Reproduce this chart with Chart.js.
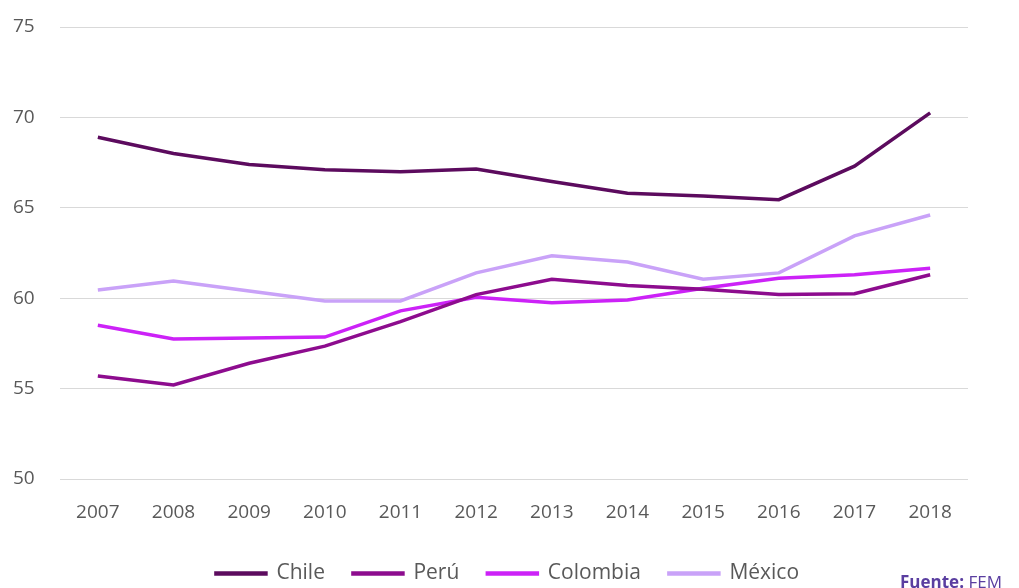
<!DOCTYPE html>
<html lang="es">
<head>
<meta charset="utf-8">
<title>Índice por país 2007-2018</title>
<script src="https://cdn.jsdelivr.net/npm/chart.js@4/dist/chart.umd.min.js"></script>
<style>
  html, body { margin: 0; padding: 0; background: #fff; overflow: hidden; }
  #wrap { position: relative; width: 1019px; height: 588px; }
  #source {
    position: absolute; left: 900px; top: 570px;
    font-family: "Open Sans", sans-serif; font-size: 17px; color: #5a3ea0;
    white-space: nowrap;
  }
  #source b { font-weight: 700; }
</style>
</head>
<body>
<div id="wrap">
  <canvas id="chart"></canvas>
  <div id="source"><b>Fuente:</b> FEM</div>
</div>
<script>
// data
const years = ['2007', '2008', '2009', '2010', '2011', '2012', '2013', '2014', '2015', '2016', '2017', '2018'];
const chile    = [68.9, 68.0, 67.4, 67.1, 67.0, 67.15, 66.45, 65.8, 65.65, 65.45, 67.3, 70.25];
const peru     = [55.7, 55.2, 56.4, 57.35, 58.7, 60.2, 61.05, 60.7, 60.5, 60.2, 60.25, 61.3];
const colombia = [58.5, 57.75, 57.8, 57.85, 59.3, 60.05, 59.75, 59.9, 60.55, 61.1, 61.3, 61.65];
const mexico   = [60.45, 60.95, 60.4, 59.85, 59.85, 61.4, 62.35, 62.0, 61.05, 61.4, 63.45, 64.6];
const yTicks   = [50, 55, 60, 65, 70, 75];

(function() {
  'use strict';

  const seriesDefs = [
    { label: 'Chile',    data: chile,    color: '#5c0b5e' },
    { label: 'Perú',     data: peru,     color: '#8d0c8e' },
    { label: 'Colombia', data: colombia, color: '#cc22f7' },
    { label: 'México',   data: mexico,   color: '#c9a2f8' }
  ];

  const tickFont = { family: '"Open Sans", sans-serif', size: 19 };

  new Chart(document.getElementById('chart'), {
    type: 'line',
    data: {
      labels: years,
      datasets: seriesDefs.map(s => ({
        label: s.label,
        data: s.data,
        borderColor: s.color,
        backgroundColor: s.color,
        borderWidth: 3.5,
        pointRadius: 0,
        tension: 0,
        fill: false
      }))
    },
    options: {
      responsive: true,
      maintainAspectRatio: false,
      animation: false,
      // small negative bottom padding so the legend row lands near the bottom edge
      layout: { padding: { top: 27, right: 17, bottom: -6, left: 13 } },
      plugins: {
        legend: {
          position: 'bottom',
          labels: {
            boxWidth: 50,
            boxHeight: 1,
            padding: 28,
            color: '#595959',
            font: { family: '"Open Sans", sans-serif', size: 21 }
          }
        },
        tooltip: { enabled: false }
      },
      scales: {
        x: {
          offset: true,
          grid: { display: false, drawTicks: false },
          border: { display: false },
          ticks: { color: '#595959', font: tickFont, padding: 22, maxRotation: 0 },
          afterFit: axis => { axis.height = 56; }
        },
        y: {
          min: 50,
          max: 75,
          afterBuildTicks: axis => { axis.ticks = yTicks.map(v => ({ value: v })); },
          grid: { color: '#d9d9d9', lineWidth: 1, drawTicks: false },
          border: { display: false },
          ticks: { color: '#595959', font: tickFont, padding: 0, crossAlign: 'far' },
          afterFit: axis => { axis.width = 47; }
        },
        // empty right-hand axis: only keeps the right margin so the legend stays centred on the page
        yRight: {
          position: 'right',
          min: 50,
          max: 75,
          grid: { display: false, drawTicks: false },
          border: { display: false },
          ticks: { display: false },
          afterFit: axis => { axis.width = 34; }
        }
      }
    }
  });
})();
</script>
</body>
</html>
